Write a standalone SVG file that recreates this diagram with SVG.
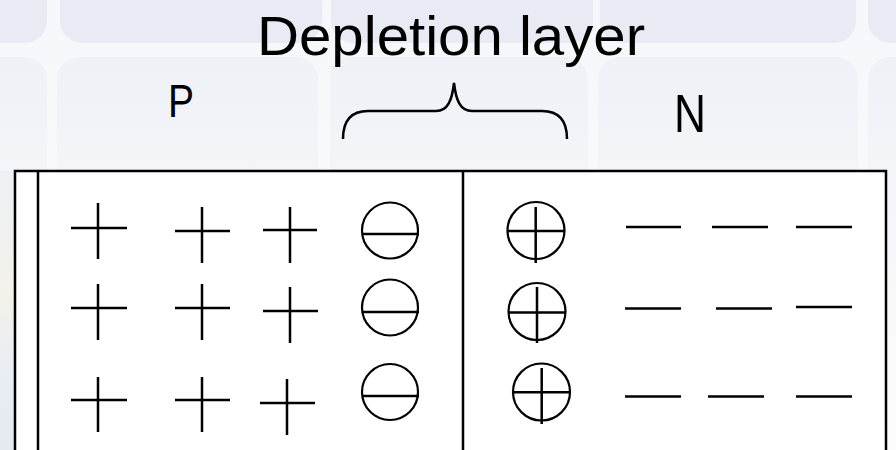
<svg xmlns="http://www.w3.org/2000/svg" width="896" height="450" viewBox="0 0 896 450">
<defs>
<linearGradient id="bg" x1="0" y1="0" x2="0" y2="1">
<stop offset="0" stop-color="#f6f7fa"/>
<stop offset="1" stop-color="#fcfcfd"/>
</linearGradient>
<linearGradient id="t2" x1="0" y1="0" x2="0" y2="1">
<stop offset="0" stop-color="#eef1f6"/>
<stop offset="0.6" stop-color="#f6f7fa"/>
<stop offset="1" stop-color="#f9fafb"/>
</linearGradient>
<linearGradient id="side" x1="0" y1="0" x2="0" y2="1">
<stop offset="0" stop-color="#eef0f5"/>
<stop offset="0.45" stop-color="#f3f2ea"/>
<stop offset="0.7" stop-color="#e9edf4"/>
<stop offset="1" stop-color="#e4e9f2"/>
</linearGradient>
</defs>
<style>
.t1{fill:#e8ebf3}
.t2{fill:url(#t2)}
.ln{stroke:#000;stroke-width:2.5;fill:none;stroke-linecap:butt}
.c{stroke:#000;stroke-width:2.2;fill:none}
.txt{font-family:"Liberation Sans",Arial,sans-serif;fill:#000}
</style>
<g id="background">
<rect x="0" y="0" width="896" height="450" fill="url(#bg)"/>
<rect class="t1" x="-215" y="-230" width="262" height="273" rx="22"/>
<rect class="t1" x="60" y="-230" width="262" height="273" rx="22"/>
<rect class="t1" x="331" y="-230" width="262" height="273" rx="22"/>
<rect class="t1" x="600" y="-230" width="256" height="273" rx="22"/>
<rect class="t1" x="868" y="-230" width="262" height="273" rx="22"/>
<rect class="t2" x="-210" y="57" width="257" height="300" rx="22"/>
<rect class="t2" x="57" y="57" width="261" height="300" rx="22"/>
<rect class="t2" x="330" y="57" width="258" height="300" rx="22"/>
<rect class="t2" x="598" y="57" width="260" height="300" rx="22"/>
<rect class="t2" x="868" y="57" width="262" height="300" rx="22"/>
<rect x="0" y="171" width="15" height="279" fill="url(#side)"/>
</g>
<g id="labels">
<text class="txt" x="257" y="55" font-size="56" textLength="388" lengthAdjust="spacingAndGlyphs">Depletion layer</text>
<text class="txt" x="168" y="117" font-size="47" textLength="26" lengthAdjust="spacingAndGlyphs">P</text>
<text class="txt" x="674" y="132" font-size="53" textLength="32" lengthAdjust="spacingAndGlyphs">N</text>
</g>
<g id="brace">
<path class="ln" stroke-width="2" d="M343,139 C343,122 350,111 368,111 L436,111 C448,111 452,100 454,83 C456,100 460,111 472,111 L542,111 C560,111 567,122 567,139"/>
</g>
<g id="junction">
<rect x="15" y="171" width="871" height="290" fill="#fff"/>
<path class="ln" d="M15,461 V171 H886 V461 M38,171 V461 M463,171 V461"/>
</g>
<g id="p-region">
<path class="ln" d="M71,228 H127 M98,203 V259 M175,231 H230 M202,207 V263 M263,230 H317 M290,207 V263
M71,308 H127 M98,284 V340 M175,308 H230 M202,284 V340 M263,311 H318 M290,287 V343
M71,400 H127 M98,377 V432 M175,400 H230 M202,377 V432 M260,403 H315 M287,379 V435"/>
</g>
<g id="negative-ions">
<circle class="c" cx="390" cy="230.5" r="28"/>
<circle class="c" cx="390" cy="307.5" r="28"/>
<circle class="c" cx="390" cy="392" r="28"/>
<path class="ln" d="M362,234 H419 M362,312 H419 M362,396 H419"/>
</g>
<g id="positive-ions">
<circle class="c" cx="536" cy="230.5" r="28.5"/>
<circle class="c" cx="537" cy="311.5" r="28.5"/>
<circle class="c" cx="541.5" cy="392" r="28.5"/>
<path class="ln" d="M507,231 H565 M535.7,207 V263 M509,312.5 H565 M537,287 V343 M513,392.3 H570 M541.7,368 V424"/>
</g>
<g id="n-region">
<path class="ln" d="M626,227 H681 M712,227 H768 M796,227 H852
M625,308.5 H681 M716,308.5 H772 M796,307 H852
M625,396.5 H681 M708,396.5 H764 M796,396.5 H852"/>
</g>
</svg>
